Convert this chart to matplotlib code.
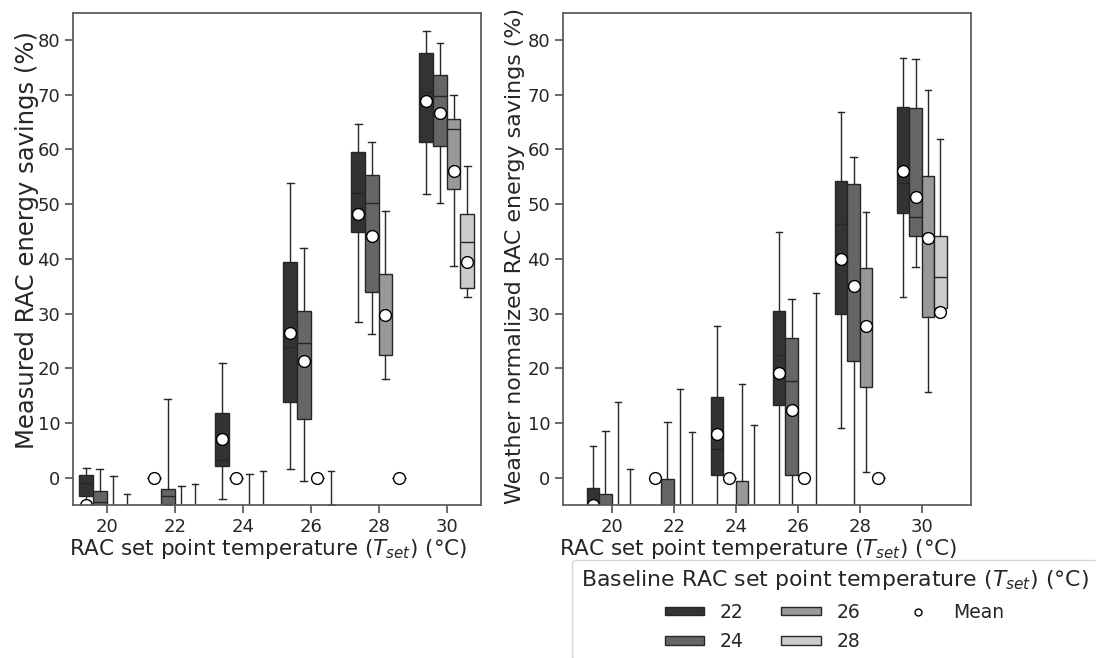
import matplotlib
matplotlib.use("Agg")
import matplotlib.pyplot as plt
from matplotlib.patches import Patch
from matplotlib.lines import Line2D

# ---------------- data ----------------
setpoints = [20, 22, 24, 26, 28, 30]
baselines = [22, 24, 26, 28]
hue_colors = ["#333333", "#666666", "#999999", "#cccccc"]

# rows = baseline (22, 24, 26, 28); columns = set point (20..30)
meas_whislo = [[-12, 0, -3.95, 1.5, 28.4, 51.9],
               [-12, -12, 0, -0.55, 26.2, 50.3],
               [-20, -15, -15, 0, 18.0, 38.7],
               [-20, -15, -15, -10, 0, 33.0]]
meas_q1 = [[-3.3, 0, 2.1, 13.8, 44.9, 61.4],
           [-8, -7, 0, 10.7, 34.0, 60.7],
           [-15, -12, -10, 0, 22.4, 52.8],
           [-15, -12, -10, -8, 0, 34.7]]
meas_med = [[-0.9, 0, 3.2, 23.8, 52.0, 70.5],
            [-4.4, -3.3, 0, 24.6, 50.2, 69.8],
            [-12, -10, -8, 0, 29.7, 63.7],
            [-12, -10, -8, -6, 0, 43.1]]
meas_q3 = [[0.5, 0, 11.9, 39.4, 59.5, 77.7],
           [-2.5, -2.1, 0, 30.5, 55.3, 73.6],
           [-8, -7, -6, 0, 37.2, 65.6],
           [-10, -8, -6, -5.5, 0, 48.2]]
meas_whishi = [[1.8, 0, 20.9, 53.9, 64.6, 81.7],
               [1.65, 14.4, 0, 42.0, 61.3, 79.4],
               [0.3, -1.45, 0.6, 0, 48.8, 70.0],
               [-3.0, -1.15, 1.2, 1.2, 0, 57.0]]
meas_mean = [[-5.0, 0, 7.0, 26.4, 48.2, 68.9],
             [-7, -6, 0, 21.3, 44.2, 66.7],
             [-12, -10, -8, 0, 29.7, 56.1],
             [-12, -10, -8, -6, 0, 39.5]]

wn_whislo = [[-20, 0, -15, -10, 9.1, 33.0],
             [-20, -15, 0, -10, -10, 38.5],
             [-25, -20, -15, 0, 1.1, 15.6],
             [-25, -20, -20, -15, 0, 30.0]]
wn_q1 = [[-12, 0, 0.4, 13.3, 29.9, 48.4],
         [-12, -10, 0, 0.5, 21.3, 44.1],
         [-18, -15, -10, 0, 16.6, 29.3],
         [-20, -16, -15, -10, 0, 31.1]]
wn_med = [[-8, 0, 5.2, 22.4, 46.4, 53.8],
          [-8, -6, 0, 17.7, 35.1, 47.6],
          [-14, -12, -6, 0, 27.7, 43.9],
          [-16, -13, -12, -8, 0, 36.7]]
wn_q3 = [[-1.9, 0, 14.75, 30.5, 54.2, 67.8],
         [-3.0, -0.3, 0, 25.5, 53.6, 67.5],
         [-10, -8, -0.55, 0, 38.4, 55.2],
         [-12, -10, -9, -6, 0, 44.1]]
wn_whishi = [[5.7, 0, 27.7, 44.9, 66.9, 76.8],
             [8.6, 10.1, 0, 32.6, 58.6, 76.6],
             [13.9, 16.2, 17.1, 0, 48.6, 70.9],
             [1.5, 8.35, 9.6, 33.8, 0, 62.0]]
wn_mean = [[-5.0, 0, 7.9, 19.1, 40.0, 56.1],
           [-8, -7, 0, 12.3, 35.1, 51.3],
           [-14, -12, -6, 0, 27.7, 43.9],
           [-16, -13, -12, -8, 0, 30.3]]

ylabels = ["Measured RAC energy savings (%)",
           "Weather normalized RAC energy savings (%)"]
xlabel = "RAC set point temperature ($T_{set}$) (°C)"
legend_title = "Baseline RAC set point temperature ($T_{set}$) (°C)"

# ---------------- plotting ----------------
plt.rcParams["font.family"] = ["DejaVu Sans"]
TICK_FS = 13
XLAB_FS = 15.5
edge = "0.15"
spine_c = "0.35"
text_c = "0.15"

fig = plt.figure(figsize=(10.96, 6.58), dpi=100)
ax1 = fig.add_axes([0.0663, 0.2325, 0.3723, 0.7482])
ax2 = fig.add_axes([0.5134, 0.2325, 0.3723, 0.7482])

offsets = [-0.3, -0.1, 0.1, 0.3]


def draw(ax, wlo, q1, med, q3, whi, mean, xlim):
    for h in range(len(baselines)):
        stats = []
        pos = []
        for i in range(len(setpoints)):
            stats.append(dict(whislo=wlo[h][i], q1=q1[h][i], med=med[h][i],
                              q3=q3[h][i], whishi=whi[h][i], mean=mean[h][i],
                              fliers=[]))
            pos.append(i + offsets[h])
        ax.bxp(stats, positions=pos, widths=0.2, patch_artist=True,
               showmeans=True, manage_ticks=False,
               boxprops=dict(facecolor=hue_colors[h], edgecolor=edge, linewidth=1.0),
               medianprops=dict(color=edge, linewidth=1.0),
               whiskerprops=dict(color=edge, linewidth=1.0),
               capprops=dict(color=edge, linewidth=1.0),
               meanprops=dict(marker="o", markerfacecolor="white",
                              markeredgecolor="black", markersize=8.5,
                              markeredgewidth=1.0))
    ax.set_xlim(*xlim)
    ax.set_ylim(-5, 85)
    ax.set_xticks(range(len(setpoints)))
    ax.set_xticklabels([str(s) for s in setpoints])
    ax.set_yticks(range(0, 81, 10))
    ax.tick_params(labelsize=TICK_FS, length=6, width=1.25, color=spine_c,
                   labelcolor=text_c, direction="out", pad=3)
    for s in ax.spines.values():
        s.set_color(spine_c)
        s.set_linewidth(1.25)
    ax.set_xlabel(xlabel, fontsize=XLAB_FS, color=text_c, labelpad=1)
    ax.xaxis.label.set_x(0.478)


draw(ax1, meas_whislo, meas_q1, meas_med, meas_q3, meas_whishi, meas_mean, (-0.5, 5.5))
draw(ax2, wn_whislo, wn_q1, wn_med, wn_q3, wn_whishi, wn_mean, (-0.79, 5.79))
ax1.set_ylabel(ylabels[0], fontsize=17.5, color=text_c, labelpad=-1)
ax1.yaxis.label.set_y(0.538)
ax2.set_ylabel(ylabels[1], fontsize=15.9, color=text_c, labelpad=2)
ax2.yaxis.label.set_y(0.505)

handles = [Patch(facecolor=c, edgecolor=edge, linewidth=1.0) for c in hue_colors]
labels = [str(b) for b in baselines]
handles.append(Line2D([], [], linestyle="none", marker="o", markerfacecolor="white",
                      markeredgecolor="black", markersize=5))
labels.append("Mean")
leg = fig.legend(handles, labels, title=legend_title, ncol=3,
                 loc="upper left", bbox_to_anchor=(0.522, 0.149),
                 fontsize=13.5, title_fontsize=15.8, frameon=True,
                 handlelength=2.1, handleheight=0.35, handletextpad=0.85,
                 columnspacing=2.0, borderaxespad=0.0, labelspacing=0.55,
                 borderpad=0.45)
leg.get_frame().set_edgecolor("0.8")
leg.get_title().set_color(text_c)
for t in leg.get_texts():
    t.set_color(text_c)

fig.savefig("out.png", dpi=100)
